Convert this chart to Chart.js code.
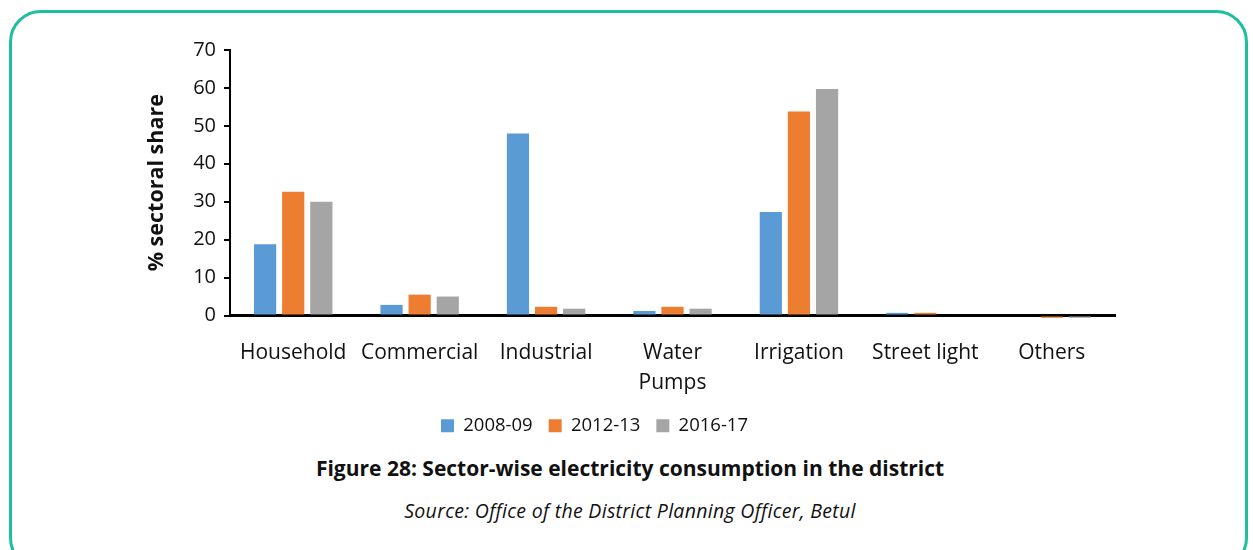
<!DOCTYPE html>
<html>
<head>
<meta charset="utf-8">
<script src="https://cdn.jsdelivr.net/npm/chart.js@4.4.1/dist/chart.umd.min.js"></script>
<style>
  html, body { margin: 0; padding: 0; background: #fff; }
  #wrap { position: relative; width: 1253px; height: 550px; overflow: hidden; }
  #frame {
    position: absolute; left: 9px; top: 10px; width: 1239px; height: 560px;
    border: 3px solid #1dbf9e; border-radius: 32px; box-sizing: border-box;
  }
  #box { position: absolute; left: 0; top: 0; width: 1253px; height: 445px; }
  .cap { position: absolute; left: 0; width: 1260px; text-align: center; color: #111; }
  #fig { top: 454px; font: bold 21px "Open Sans", sans-serif; }
  #src { top: 497px; font: italic 19.5px "Open Sans", sans-serif; letter-spacing: 0.3px; }
</style>
</head>
<body>
<div id="wrap">
  <div id="frame"></div>
  <div id="box"><canvas id="grafico"></canvas></div>
  <div class="cap" id="fig">Figure 28: Sector-wise electricity consumption in the district</div>
  <div class="cap" id="src">Source: Office of the District Planning Officer, Betul</div>
</div>
<script>
const setores = ["Household", "Commercial", "Industrial", ["Water", "Pumps"], "Irrigation", "Street light", "Others"];
const anos = ["2008-09", "2012-13", "2016-17"];
const valores2008 = [18.8, 2.8, 48.0, 1.2, 27.3, 0.7, 0];
const valores2012 = [32.6, 5.5, 2.3, 2.3, 53.8, 0.7, -0.6];
const valores2016 = [30.0, 5.0, 1.8, 1.8, 59.7, 0, -0.6];
const cores = ["#5B9BD5", "#ED7D31", "#A5A5A5"];
const ticksY = [0, 10, 20, 30, 40, 50, 60, 70];

const fonte = "'Open Sans', sans-serif";

new Chart(document.getElementById("grafico"), {
    type: "bar",
    data: {
        labels: setores,
        datasets: [valores2008, valores2012, valores2016].map((d, i) => ({
            label: anos[i],
            data: d,
            backgroundColor: cores[i],
            borderWidth: 0,
            clip: false,
            barPercentage: 0.79,
            categoryPercentage: 0.667
        }))
    },
    options: {
        responsive: true,
        maintainAspectRatio: false,
        animation: false,
        layout: { padding: { left: 74, right: 138, top: 50, bottom: 0 } },
        plugins: {
            legend: {
                position: "bottom",
                labels: {
                    boxWidth: 13, boxHeight: 13, padding: 16,
                    color: "#111",
                    font: { family: fonte, size: 18.5 }
                }
            },
            tooltip: { enabled: false }
        },
        scales: {
            x: {
                grid: { display: false, drawTicks: false },
                border: { display: true, color: "#000", width: 3 },
                ticks: {
                    color: "#111", padding: 23, maxRotation: 0, autoSkip: false,
                    font: { family: fonte, size: 21, lineHeight: 1.4 }
                },
                afterFit: s => { s.height = 85; }
            },
            y: {
                min: 0, max: 70,
                afterBuildTicks: s => { s.ticks = ticksY.map(v => ({ value: v })); },
                grid: { drawOnChartArea: false, drawTicks: true, tickLength: 6, color: "#000", lineWidth: 2 },
                border: { display: true, color: "#000", width: 2 },
                ticks: { color: "#111", padding: 8, font: { family: fonte, size: 20 } },
                title: {
                    display: true, text: "% sectoral share", color: "#111",
                    padding: { top: 70, bottom: 0 },
                    font: { family: fonte, size: 21.5, weight: "bold", lineHeight: 1.2 }
                },
                afterFit: s => { s.width = 156; }
            }
        }
    }
});
</script>
</body>
</html>
